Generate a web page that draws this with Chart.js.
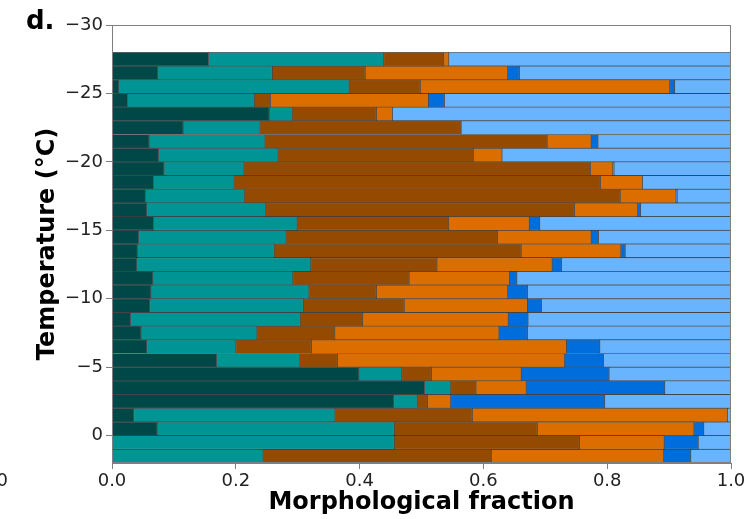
<!DOCTYPE html>
<html>
<head>
<meta charset="utf-8">
<script src="https://cdn.jsdelivr.net/npm/chart.js@4.4.1/dist/chart.umd.min.js"></script>
<style>
  html, body { margin: 0; padding: 0; background: #ffffff; }
  canvas { display: block; }
</style>
</head>
<body>
<canvas id="chart" width="748" height="519"></canvas>
<script>
// Temperature bins (centre of each 1 °C bin), coldest at the top
const temperatures = [
  -27.5, -26.5, -25.5, -24.5, -23.5, -22.5, -21.5, -20.5, -19.5, -18.5,
  -17.5, -16.5, -15.5, -14.5, -13.5, -12.5, -11.5, -10.5, -9.5, -8.5,
  -7.5, -6.5, -5.5, -4.5, -3.5, -2.5, -1.5, -0.5, 0.5, 1.5
];

// Fraction of each morphological class per temperature bin
const class1 = [0.156, 0.074, 0.011, 0.025, 0.254, 0.115, 0.060, 0.075, 0.084, 0.067,
                0.054, 0.056, 0.067, 0.043, 0.041, 0.040, 0.066, 0.063, 0.061, 0.030,
                0.047, 0.056, 0.169, 0.399, 0.505, 0.455, 0.035, 0.073, 0.000, 0.000];
const class2 = [0.283, 0.185, 0.372, 0.205, 0.037, 0.124, 0.187, 0.193, 0.129, 0.130,
                0.160, 0.192, 0.232, 0.238, 0.221, 0.281, 0.226, 0.255, 0.248, 0.274,
                0.187, 0.144, 0.134, 0.069, 0.042, 0.038, 0.325, 0.383, 0.456, 0.244];
const class3 = [0.097, 0.150, 0.115, 0.026, 0.136, 0.325, 0.456, 0.316, 0.560, 0.592,
                0.607, 0.499, 0.245, 0.342, 0.399, 0.204, 0.188, 0.109, 0.163, 0.101,
                0.126, 0.122, 0.061, 0.048, 0.041, 0.017, 0.222, 0.231, 0.299, 0.369];
const class4 = [0.008, 0.230, 0.403, 0.255, 0.026, 0.000, 0.071, 0.046, 0.036, 0.068,
                0.090, 0.102, 0.130, 0.151, 0.161, 0.186, 0.162, 0.212, 0.199, 0.235,
                0.265, 0.412, 0.367, 0.145, 0.081, 0.037, 0.412, 0.253, 0.137, 0.278];
const class5 = [0.000, 0.019, 0.008, 0.026, 0.000, 0.000, 0.011, 0.000, 0.002, 0.000,
                0.002, 0.005, 0.017, 0.012, 0.007, 0.015, 0.012, 0.032, 0.023, 0.032,
                0.046, 0.054, 0.063, 0.142, 0.224, 0.249, 0.000, 0.016, 0.055, 0.044];
const class6 = [0.456, 0.342, 0.091, 0.463, 0.547, 0.436, 0.215, 0.370, 0.189, 0.143,
                0.087, 0.146, 0.309, 0.214, 0.171, 0.274, 0.346, 0.329, 0.306, 0.328,
                0.329, 0.212, 0.206, 0.197, 0.107, 0.204, 0.006, 0.044, 0.053, 0.065];

const xTicks = [0, 0.2, 0.4, 0.6, 0.8, 1.0];
const yTicks = [-30, -25, -20, -15, -10, -5, 0];

const seriesNames = ['class 1', 'class 2', 'class 3', 'class 4', 'class 5', 'class 6'];
const seriesValues = [class1, class2, class3, class4, class5, class6];
const seriesColors = ['#004848', '#009595', '#944a00', '#dc6e00', '#006ddc', '#69b4ff'];

const FONT = "'DejaVu Sans', 'Liberation Sans', sans-serif";
const SPINE = '#7f7f7f';

const datasets = seriesValues.map((vals, i) => ({
  label: seriesNames[i],
  data: vals.map((v, j) => ({ x: v, y: temperatures[j] })),
  backgroundColor: seriesColors[i],
  borderColor: 'rgba(0,0,0,0.6)',
  borderWidth: 0.8,
  borderSkipped: false,
  barPercentage: 1.0,
  categoryPercentage: 1.0
}));

// Frame around the plotting area plus the panel letter
const frameAndLabels = {
  id: 'frameAndLabels',
  afterDatasetsDraw(chart) {
    const { ctx, chartArea: a } = chart;
    ctx.save();
    ctx.strokeStyle = SPINE;
    ctx.lineWidth = 1;
    ctx.strokeRect(Math.round(a.left) + 0.5, Math.round(a.top) + 0.5,
                   Math.round(a.right - a.left) - 1, Math.round(a.bottom - a.top) - 1);
    ctx.restore();
  },
  afterDraw(chart) {
    const { ctx } = chart;
    ctx.save();
    ctx.fillStyle = '#000';
    ctx.textAlign = 'left';
    ctx.textBaseline = 'alphabetic';
    ctx.font = 'bold 26px ' + FONT;
    ctx.fillText('d.', 26, 29);
    // edge of the neighbouring panel's axis label
    ctx.font = '18px ' + FONT;
    ctx.textAlign = 'right';
    ctx.fillStyle = '#222';
    ctx.fillText('1.0', 8, 486);
    ctx.restore();
  }
};

new Chart(document.getElementById('chart'), {
  type: 'bar',
  data: { datasets },
  options: {
    indexAxis: 'y',
    responsive: false,
    animation: false,
    devicePixelRatio: 1,
    layout: { padding: { top: 25, right: 17, left: 0, bottom: 0 } },
    plugins: {
      legend: { display: false },
      tooltip: { enabled: false }
    },
    scales: {
      x: {
        type: 'linear',
        stacked: true,
        min: 0,
        max: 1,
        afterBuildTicks: (s) => { s.ticks = xTicks.map(v => ({ value: v })); },
        afterFit: (s) => { s.height = 56; },
        border: { display: true, color: SPINE, width: 1 },
        grid: { drawOnChartArea: false, offset: false, tickLength: 6, color: SPINE, tickColor: SPINE },
        ticks: {
          padding: 2,
          color: '#222',
          font: { family: FONT, size: 18 },
          callback: (v) => Number(v).toFixed(1)
        },
        title: {
          display: true,
          text: 'Morphological fraction',
          color: '#000',
          font: { family: FONT, size: 24, weight: 'bold' },
          padding: { top: 0, bottom: 2 }
        }
      },
      y: {
        type: 'linear',
        stacked: true,
        reverse: true,
        offset: false,
        min: -30,
        max: 2,
        afterBuildTicks: (s) => { s.ticks = yTicks.map(v => ({ value: v })); },
        afterFit: (s) => { s.width = 112; },
        border: { display: true, color: SPINE, width: 1 },
        grid: { drawOnChartArea: false, offset: false, tickLength: 6, color: SPINE, tickColor: SPINE },
        ticks: {
          padding: 3,
          color: '#222',
          font: { family: FONT, size: 18 },
          callback: (v) => String(v).replace('-', '\u2212')
        },
        title: {
          display: true,
          text: 'Temperature (°C)',
          color: '#000',
          font: { family: FONT, size: 24, weight: 'bold' },
          padding: { top: 33, bottom: 0 }
        }
      }
    }
  },
  plugins: [frameAndLabels]
});
</script>
</body>
</html>
